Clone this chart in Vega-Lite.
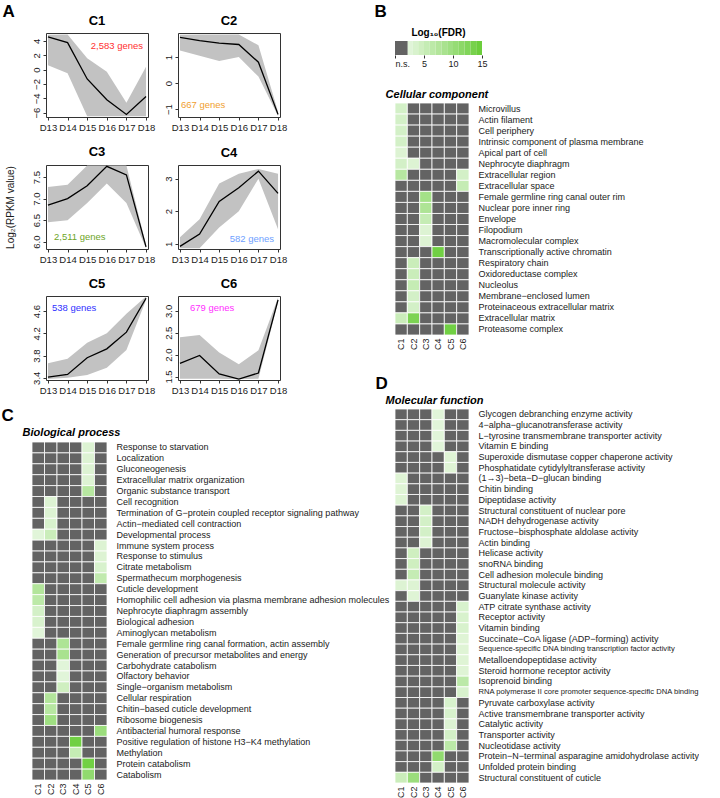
{
"$schema":"https://vega.github.io/schema/vega-lite/v6.json",
"padding":{"left":1,"top":2,"right":0,"bottom":0},
"background":"white",
"config":{
 "font":"Liberation Sans",
 "view":{"stroke":"#333333","strokeWidth":1},
 "axis":{"grid":false,"labelFont":"Liberation Sans","titleFont":"Liberation Sans","labelColor":"#1a1a1a","titleColor":"#1a1a1a","tickColor":"#333333","titleFontWeight":"normal","labelOverlap":false},
 "axisLeft":{"labelAngle":-90,"labelAlign":"center","labelBaseline":"bottom","tickSize":3,"labelPadding":2,"domain":false,"labelFontSize":9.5,"titleFontSize":10,"titlePadding":16,"labelOverlap":false},
 "axisRight":{"domain":false,"ticks":false,"labelFontSize":9,"labelPadding":9,"labelLimit":400},
 "title":{"font":"Liberation Sans","color":"#000000"}
},
"datasets":{
"a":[
{"k":"C1","d":"D13","m":4.56,"lo":0.6,"hi":4.85},
{"k":"C1","d":"D14","m":3.76,"lo":-0.5,"hi":4.9},
{"k":"C1","d":"D15","m":-1.3,"lo":-6.5,"hi":1.6},
{"k":"C1","d":"D16","m":-4.2,"lo":-6.5,"hi":-0.3},
{"k":"C1","d":"D17","m":-6.25,"lo":-6.5,"hi":-4.6},
{"k":"C1","d":"D18","m":-3.75,"lo":-6.5,"hi":0.4},
{"k":"C2","d":"D13","m":1.75,"lo":1.25,"hi":1.85},
{"k":"C2","d":"D14","m":1.63,"lo":1.05,"hi":1.86},
{"k":"C2","d":"D15","m":1.53,"lo":0.85,"hi":1.86},
{"k":"C2","d":"D16","m":1.48,"lo":1.0,"hi":1.86},
{"k":"C2","d":"D17","m":0.8,"lo":0.25,"hi":1.45},
{"k":"C2","d":"D18","m":-1.2,"lo":-1.26,"hi":-1.1},
{"k":"C3","d":"D13","m":6.85,"lo":6.45,"hi":7.27},
{"k":"C3","d":"D14","m":7.0,"lo":6.5,"hi":7.32},
{"k":"C3","d":"D15","m":7.3,"lo":6.9,"hi":7.77},
{"k":"C3","d":"D16","m":7.75,"lo":7.35,"hi":7.77},
{"k":"C3","d":"D17","m":7.55,"lo":6.9,"hi":7.77},
{"k":"C3","d":"D18","m":5.88,"lo":5.85,"hi":5.92},
{"k":"C4","d":"D13","m":0.92,"lo":0.86,"hi":1.2},
{"k":"C4","d":"D14","m":1.3,"lo":0.86,"hi":1.75},
{"k":"C4","d":"D15","m":2.3,"lo":1.5,"hi":2.85},
{"k":"C4","d":"D16","m":2.72,"lo":2.0,"hi":3.15},
{"k":"C4","d":"D17","m":3.23,"lo":3.0,"hi":3.3},
{"k":"C4","d":"D18","m":2.55,"lo":1.45,"hi":3.15},
{"k":"C5","d":"D13","m":3.41,"lo":3.38,"hi":3.66},
{"k":"C5","d":"D14","m":3.46,"lo":3.4,"hi":3.74},
{"k":"C5","d":"D15","m":3.76,"lo":3.45,"hi":4.03},
{"k":"C5","d":"D16","m":3.92,"lo":3.58,"hi":4.2},
{"k":"C5","d":"D17","m":4.22,"lo":3.9,"hi":4.55},
{"k":"C5","d":"D18","m":4.83,"lo":4.8,"hi":4.86},
{"k":"C6","d":"D13","m":1.8,"lo":1.45,"hi":2.4},
{"k":"C6","d":"D14","m":1.98,"lo":1.45,"hi":2.45},
{"k":"C6","d":"D15","m":1.56,"lo":1.45,"hi":2.05},
{"k":"C6","d":"D16","m":1.44,"lo":1.44,"hi":1.78},
{"k":"C6","d":"D17","m":1.58,"lo":1.45,"hi":2.1},
{"k":"C6","d":"D18","m":3.25,"lo":3.2,"hi":3.3}
],
"leg":[
{"a":0,"b":2.2,"v":0},
{"a":2.2,"b":3,"v":2.6},
{"a":3,"b":4,"v":3.5},
{"a":4,"b":5,"v":4.5},
{"a":5,"b":6,"v":5.5},
{"a":6,"b":7,"v":6.5},
{"a":7,"b":8,"v":7.5},
{"a":8,"b":9,"v":8.5},
{"a":9,"b":10,"v":9.5},
{"a":10,"b":11,"v":10.5},
{"a":11,"b":12,"v":11.5},
{"a":12,"b":13,"v":12.5},
{"a":13,"b":14,"v":13.5},
{"a":14,"b":15,"v":14.5}
],
"cc":[
{"t":"Microvillus","c":"C1","v":4},{"t":"Microvillus","c":"C2","v":0},{"t":"Microvillus","c":"C3","v":0},{"t":"Microvillus","c":"C4","v":0},{"t":"Microvillus","c":"C5","v":0},{"t":"Microvillus","c":"C6","v":0},
{"t":"Actin filament","c":"C1","v":4},{"t":"Actin filament","c":"C2","v":0},{"t":"Actin filament","c":"C3","v":0},{"t":"Actin filament","c":"C4","v":0},{"t":"Actin filament","c":"C5","v":0},{"t":"Actin filament","c":"C6","v":0},
{"t":"Cell periphery","c":"C1","v":4},{"t":"Cell periphery","c":"C2","v":0},{"t":"Cell periphery","c":"C3","v":0},{"t":"Cell periphery","c":"C4","v":0},{"t":"Cell periphery","c":"C5","v":0},{"t":"Cell periphery","c":"C6","v":0},
{"t":"Intrinsic component of plasma membrane","c":"C1","v":4},{"t":"Intrinsic component of plasma membrane","c":"C2","v":0},{"t":"Intrinsic component of plasma membrane","c":"C3","v":0},{"t":"Intrinsic component of plasma membrane","c":"C4","v":0},{"t":"Intrinsic component of plasma membrane","c":"C5","v":0},{"t":"Intrinsic component of plasma membrane","c":"C6","v":0},
{"t":"Apical part of cell","c":"C1","v":3},{"t":"Apical part of cell","c":"C2","v":0},{"t":"Apical part of cell","c":"C3","v":0},{"t":"Apical part of cell","c":"C4","v":0},{"t":"Apical part of cell","c":"C5","v":0},{"t":"Apical part of cell","c":"C6","v":0},
{"t":"Nephrocyte diaphragm","c":"C1","v":4},{"t":"Nephrocyte diaphragm","c":"C2","v":3},{"t":"Nephrocyte diaphragm","c":"C3","v":0},{"t":"Nephrocyte diaphragm","c":"C4","v":0},{"t":"Nephrocyte diaphragm","c":"C5","v":0},{"t":"Nephrocyte diaphragm","c":"C6","v":0},
{"t":"Extracellular region","c":"C1","v":7},{"t":"Extracellular region","c":"C2","v":0},{"t":"Extracellular region","c":"C3","v":0},{"t":"Extracellular region","c":"C4","v":0},{"t":"Extracellular region","c":"C5","v":0},{"t":"Extracellular region","c":"C6","v":4},
{"t":"Extracellular space","c":"C1","v":0},{"t":"Extracellular space","c":"C2","v":0},{"t":"Extracellular space","c":"C3","v":0},{"t":"Extracellular space","c":"C4","v":0},{"t":"Extracellular space","c":"C5","v":0},{"t":"Extracellular space","c":"C6","v":5.5},
{"t":"Female germline ring canal outer rim","c":"C1","v":0},{"t":"Female germline ring canal outer rim","c":"C2","v":0},{"t":"Female germline ring canal outer rim","c":"C3","v":9},{"t":"Female germline ring canal outer rim","c":"C4","v":0},{"t":"Female germline ring canal outer rim","c":"C5","v":0},{"t":"Female germline ring canal outer rim","c":"C6","v":0},
{"t":"Nuclear pore inner ring","c":"C1","v":0},{"t":"Nuclear pore inner ring","c":"C2","v":0},{"t":"Nuclear pore inner ring","c":"C3","v":8},{"t":"Nuclear pore inner ring","c":"C4","v":0},{"t":"Nuclear pore inner ring","c":"C5","v":0},{"t":"Nuclear pore inner ring","c":"C6","v":0},
{"t":"Envelope","c":"C1","v":0},{"t":"Envelope","c":"C2","v":0},{"t":"Envelope","c":"C3","v":5.5},{"t":"Envelope","c":"C4","v":0},{"t":"Envelope","c":"C5","v":0},{"t":"Envelope","c":"C6","v":0},
{"t":"Filopodium","c":"C1","v":0},{"t":"Filopodium","c":"C2","v":0},{"t":"Filopodium","c":"C3","v":3},{"t":"Filopodium","c":"C4","v":0},{"t":"Filopodium","c":"C5","v":0},{"t":"Filopodium","c":"C6","v":0},
{"t":"Macromolecular complex","c":"C1","v":0},{"t":"Macromolecular complex","c":"C2","v":0},{"t":"Macromolecular complex","c":"C3","v":3},{"t":"Macromolecular complex","c":"C4","v":0},{"t":"Macromolecular complex","c":"C5","v":0},{"t":"Macromolecular complex","c":"C6","v":0},
{"t":"Transcriptionally active chromatin","c":"C1","v":0},{"t":"Transcriptionally active chromatin","c":"C2","v":0},{"t":"Transcriptionally active chromatin","c":"C3","v":0},{"t":"Transcriptionally active chromatin","c":"C4","v":14},{"t":"Transcriptionally active chromatin","c":"C5","v":0},{"t":"Transcriptionally active chromatin","c":"C6","v":0},
{"t":"Respiratory chain","c":"C1","v":0},{"t":"Respiratory chain","c":"C2","v":5},{"t":"Respiratory chain","c":"C3","v":0},{"t":"Respiratory chain","c":"C4","v":0},{"t":"Respiratory chain","c":"C5","v":0},{"t":"Respiratory chain","c":"C6","v":0},
{"t":"Oxidoreductase complex","c":"C1","v":0},{"t":"Oxidoreductase complex","c":"C2","v":5},{"t":"Oxidoreductase complex","c":"C3","v":0},{"t":"Oxidoreductase complex","c":"C4","v":0},{"t":"Oxidoreductase complex","c":"C5","v":0},{"t":"Oxidoreductase complex","c":"C6","v":0},
{"t":"Nucleolus","c":"C1","v":0},{"t":"Nucleolus","c":"C2","v":5.5},{"t":"Nucleolus","c":"C3","v":0},{"t":"Nucleolus","c":"C4","v":0},{"t":"Nucleolus","c":"C5","v":0},{"t":"Nucleolus","c":"C6","v":0},
{"t":"Membrane−enclosed lumen","c":"C1","v":0},{"t":"Membrane−enclosed lumen","c":"C2","v":4},{"t":"Membrane−enclosed lumen","c":"C3","v":0},{"t":"Membrane−enclosed lumen","c":"C4","v":0},{"t":"Membrane−enclosed lumen","c":"C5","v":0},{"t":"Membrane−enclosed lumen","c":"C6","v":0},
{"t":"Proteinaceous extracellular matrix","c":"C1","v":0},{"t":"Proteinaceous extracellular matrix","c":"C2","v":4},{"t":"Proteinaceous extracellular matrix","c":"C3","v":0},{"t":"Proteinaceous extracellular matrix","c":"C4","v":0},{"t":"Proteinaceous extracellular matrix","c":"C5","v":0},{"t":"Proteinaceous extracellular matrix","c":"C6","v":0},
{"t":"Extracellular matrix","c":"C1","v":5},{"t":"Extracellular matrix","c":"C2","v":13},{"t":"Extracellular matrix","c":"C3","v":0},{"t":"Extracellular matrix","c":"C4","v":0},{"t":"Extracellular matrix","c":"C5","v":0},{"t":"Extracellular matrix","c":"C6","v":0},
{"t":"Proteasome complex","c":"C1","v":0},{"t":"Proteasome complex","c":"C2","v":0},{"t":"Proteasome complex","c":"C3","v":0},{"t":"Proteasome complex","c":"C4","v":0},{"t":"Proteasome complex","c":"C5","v":14},{"t":"Proteasome complex","c":"C6","v":0}
],
"bp":[
{"t":"Response to starvation","c":"C1","v":0},{"t":"Response to starvation","c":"C2","v":0},{"t":"Response to starvation","c":"C3","v":0},{"t":"Response to starvation","c":"C4","v":0},{"t":"Response to starvation","c":"C5","v":3},{"t":"Response to starvation","c":"C6","v":0},
{"t":"Localization","c":"C1","v":0},{"t":"Localization","c":"C2","v":0},{"t":"Localization","c":"C3","v":0},{"t":"Localization","c":"C4","v":0},{"t":"Localization","c":"C5","v":3},{"t":"Localization","c":"C6","v":0},
{"t":"Gluconeogenesis","c":"C1","v":0},{"t":"Gluconeogenesis","c":"C2","v":0},{"t":"Gluconeogenesis","c":"C3","v":0},{"t":"Gluconeogenesis","c":"C4","v":0},{"t":"Gluconeogenesis","c":"C5","v":3},{"t":"Gluconeogenesis","c":"C6","v":0},
{"t":"Extracellular matrix organization","c":"C1","v":0},{"t":"Extracellular matrix organization","c":"C2","v":0},{"t":"Extracellular matrix organization","c":"C3","v":0},{"t":"Extracellular matrix organization","c":"C4","v":0},{"t":"Extracellular matrix organization","c":"C5","v":3},{"t":"Extracellular matrix organization","c":"C6","v":0},
{"t":"Organic substance transport","c":"C1","v":0},{"t":"Organic substance transport","c":"C2","v":0},{"t":"Organic substance transport","c":"C3","v":0},{"t":"Organic substance transport","c":"C4","v":0},{"t":"Organic substance transport","c":"C5","v":7},{"t":"Organic substance transport","c":"C6","v":0},
{"t":"Cell recognition","c":"C1","v":0},{"t":"Cell recognition","c":"C2","v":3},{"t":"Cell recognition","c":"C3","v":0},{"t":"Cell recognition","c":"C4","v":0},{"t":"Cell recognition","c":"C5","v":0},{"t":"Cell recognition","c":"C6","v":0},
{"t":"Termination of G−protein coupled receptor signaling pathway","c":"C1","v":0},{"t":"Termination of G−protein coupled receptor signaling pathway","c":"C2","v":3},{"t":"Termination of G−protein coupled receptor signaling pathway","c":"C3","v":0},{"t":"Termination of G−protein coupled receptor signaling pathway","c":"C4","v":0},{"t":"Termination of G−protein coupled receptor signaling pathway","c":"C5","v":0},{"t":"Termination of G−protein coupled receptor signaling pathway","c":"C6","v":0},
{"t":"Actin−mediated cell contraction","c":"C1","v":0},{"t":"Actin−mediated cell contraction","c":"C2","v":3.5},{"t":"Actin−mediated cell contraction","c":"C3","v":0},{"t":"Actin−mediated cell contraction","c":"C4","v":0},{"t":"Actin−mediated cell contraction","c":"C5","v":0},{"t":"Actin−mediated cell contraction","c":"C6","v":0},
{"t":"Developmental process","c":"C1","v":2.5},{"t":"Developmental process","c":"C2","v":5},{"t":"Developmental process","c":"C3","v":0},{"t":"Developmental process","c":"C4","v":0},{"t":"Developmental process","c":"C5","v":0},{"t":"Developmental process","c":"C6","v":0},
{"t":"Immune system process","c":"C1","v":0},{"t":"Immune system process","c":"C2","v":0},{"t":"Immune system process","c":"C3","v":0},{"t":"Immune system process","c":"C4","v":0},{"t":"Immune system process","c":"C5","v":0},{"t":"Immune system process","c":"C6","v":3},
{"t":"Response to stimulus","c":"C1","v":0},{"t":"Response to stimulus","c":"C2","v":0},{"t":"Response to stimulus","c":"C3","v":0},{"t":"Response to stimulus","c":"C4","v":0},{"t":"Response to stimulus","c":"C5","v":0},{"t":"Response to stimulus","c":"C6","v":3},
{"t":"Citrate metabolism","c":"C1","v":0},{"t":"Citrate metabolism","c":"C2","v":0},{"t":"Citrate metabolism","c":"C3","v":0},{"t":"Citrate metabolism","c":"C4","v":0},{"t":"Citrate metabolism","c":"C5","v":0},{"t":"Citrate metabolism","c":"C6","v":3.5},
{"t":"Spermathecum morphogenesis","c":"C1","v":0},{"t":"Spermathecum morphogenesis","c":"C2","v":0},{"t":"Spermathecum morphogenesis","c":"C3","v":0},{"t":"Spermathecum morphogenesis","c":"C4","v":0},{"t":"Spermathecum morphogenesis","c":"C5","v":0},{"t":"Spermathecum morphogenesis","c":"C6","v":6},
{"t":"Cuticle development","c":"C1","v":7.5},{"t":"Cuticle development","c":"C2","v":0},{"t":"Cuticle development","c":"C3","v":0},{"t":"Cuticle development","c":"C4","v":0},{"t":"Cuticle development","c":"C5","v":0},{"t":"Cuticle development","c":"C6","v":0},
{"t":"Homophilic cell adhesion via plasma membrane adhesion molecules","c":"C1","v":6.5},{"t":"Homophilic cell adhesion via plasma membrane adhesion molecules","c":"C2","v":0},{"t":"Homophilic cell adhesion via plasma membrane adhesion molecules","c":"C3","v":0},{"t":"Homophilic cell adhesion via plasma membrane adhesion molecules","c":"C4","v":0},{"t":"Homophilic cell adhesion via plasma membrane adhesion molecules","c":"C5","v":0},{"t":"Homophilic cell adhesion via plasma membrane adhesion molecules","c":"C6","v":0},
{"t":"Nephrocyte diaphragm assembly","c":"C1","v":4},{"t":"Nephrocyte diaphragm assembly","c":"C2","v":0},{"t":"Nephrocyte diaphragm assembly","c":"C3","v":0},{"t":"Nephrocyte diaphragm assembly","c":"C4","v":0},{"t":"Nephrocyte diaphragm assembly","c":"C5","v":0},{"t":"Nephrocyte diaphragm assembly","c":"C6","v":0},
{"t":"Biological adhesion","c":"C1","v":3.5},{"t":"Biological adhesion","c":"C2","v":0},{"t":"Biological adhesion","c":"C3","v":0},{"t":"Biological adhesion","c":"C4","v":0},{"t":"Biological adhesion","c":"C5","v":0},{"t":"Biological adhesion","c":"C6","v":0},
{"t":"Aminoglycan metabolism","c":"C1","v":2.5},{"t":"Aminoglycan metabolism","c":"C2","v":0},{"t":"Aminoglycan metabolism","c":"C3","v":0},{"t":"Aminoglycan metabolism","c":"C4","v":0},{"t":"Aminoglycan metabolism","c":"C5","v":0},{"t":"Aminoglycan metabolism","c":"C6","v":0},
{"t":"Female germline ring canal formation, actin assembly","c":"C1","v":0},{"t":"Female germline ring canal formation, actin assembly","c":"C2","v":0},{"t":"Female germline ring canal formation, actin assembly","c":"C3","v":8},{"t":"Female germline ring canal formation, actin assembly","c":"C4","v":0},{"t":"Female germline ring canal formation, actin assembly","c":"C5","v":0},{"t":"Female germline ring canal formation, actin assembly","c":"C6","v":0},
{"t":"Generation of precursor metabolites and energy","c":"C1","v":0},{"t":"Generation of precursor metabolites and energy","c":"C2","v":0},{"t":"Generation of precursor metabolites and energy","c":"C3","v":8.5},{"t":"Generation of precursor metabolites and energy","c":"C4","v":0},{"t":"Generation of precursor metabolites and energy","c":"C5","v":0},{"t":"Generation of precursor metabolites and energy","c":"C6","v":0},
{"t":"Carbohydrate catabolism","c":"C1","v":0},{"t":"Carbohydrate catabolism","c":"C2","v":0},{"t":"Carbohydrate catabolism","c":"C3","v":2.5},{"t":"Carbohydrate catabolism","c":"C4","v":0},{"t":"Carbohydrate catabolism","c":"C5","v":0},{"t":"Carbohydrate catabolism","c":"C6","v":0},
{"t":"Olfactory behavior","c":"C1","v":0},{"t":"Olfactory behavior","c":"C2","v":0},{"t":"Olfactory behavior","c":"C3","v":2.5},{"t":"Olfactory behavior","c":"C4","v":0},{"t":"Olfactory behavior","c":"C5","v":0},{"t":"Olfactory behavior","c":"C6","v":0},
{"t":"Single−organism metabolism","c":"C1","v":0},{"t":"Single−organism metabolism","c":"C2","v":0},{"t":"Single−organism metabolism","c":"C3","v":4.5},{"t":"Single−organism metabolism","c":"C4","v":0},{"t":"Single−organism metabolism","c":"C5","v":0},{"t":"Single−organism metabolism","c":"C6","v":0},
{"t":"Cellular respiration","c":"C1","v":0},{"t":"Cellular respiration","c":"C2","v":7.5},{"t":"Cellular respiration","c":"C3","v":0},{"t":"Cellular respiration","c":"C4","v":0},{"t":"Cellular respiration","c":"C5","v":0},{"t":"Cellular respiration","c":"C6","v":0},
{"t":"Chitin−based cuticle development","c":"C1","v":0},{"t":"Chitin−based cuticle development","c":"C2","v":7},{"t":"Chitin−based cuticle development","c":"C3","v":0},{"t":"Chitin−based cuticle development","c":"C4","v":0},{"t":"Chitin−based cuticle development","c":"C5","v":0},{"t":"Chitin−based cuticle development","c":"C6","v":0},
{"t":"Ribosome biogenesis","c":"C1","v":0},{"t":"Ribosome biogenesis","c":"C2","v":9.5},{"t":"Ribosome biogenesis","c":"C3","v":0},{"t":"Ribosome biogenesis","c":"C4","v":0},{"t":"Ribosome biogenesis","c":"C5","v":0},{"t":"Ribosome biogenesis","c":"C6","v":0},
{"t":"Antibacterial humoral response","c":"C1","v":0},{"t":"Antibacterial humoral response","c":"C2","v":0},{"t":"Antibacterial humoral response","c":"C3","v":0},{"t":"Antibacterial humoral response","c":"C4","v":0},{"t":"Antibacterial humoral response","c":"C5","v":0},{"t":"Antibacterial humoral response","c":"C6","v":10},
{"t":"Positive regulation of histone H3−K4 methylation","c":"C1","v":0},{"t":"Positive regulation of histone H3−K4 methylation","c":"C2","v":0},{"t":"Positive regulation of histone H3−K4 methylation","c":"C3","v":0},{"t":"Positive regulation of histone H3−K4 methylation","c":"C4","v":14},{"t":"Positive regulation of histone H3−K4 methylation","c":"C5","v":0},{"t":"Positive regulation of histone H3−K4 methylation","c":"C6","v":0},
{"t":"Methylation","c":"C1","v":0},{"t":"Methylation","c":"C2","v":0},{"t":"Methylation","c":"C3","v":0},{"t":"Methylation","c":"C4","v":5.5},{"t":"Methylation","c":"C5","v":0},{"t":"Methylation","c":"C6","v":0},
{"t":"Protein catabolism","c":"C1","v":0},{"t":"Protein catabolism","c":"C2","v":0},{"t":"Protein catabolism","c":"C3","v":0},{"t":"Protein catabolism","c":"C4","v":0},{"t":"Protein catabolism","c":"C5","v":14},{"t":"Protein catabolism","c":"C6","v":0},
{"t":"Catabolism","c":"C1","v":0},{"t":"Catabolism","c":"C2","v":0},{"t":"Catabolism","c":"C3","v":0},{"t":"Catabolism","c":"C4","v":0},{"t":"Catabolism","c":"C5","v":11},{"t":"Catabolism","c":"C6","v":0}
],
"mf":[
{"t":"Glycogen debranching enzyme activity","c":"C1","v":0},{"t":"Glycogen debranching enzyme activity","c":"C2","v":0},{"t":"Glycogen debranching enzyme activity","c":"C3","v":0},{"t":"Glycogen debranching enzyme activity","c":"C4","v":2.5},{"t":"Glycogen debranching enzyme activity","c":"C5","v":0},{"t":"Glycogen debranching enzyme activity","c":"C6","v":0},
{"t":"4−alpha−glucanotransferase activity","c":"C1","v":0},{"t":"4−alpha−glucanotransferase activity","c":"C2","v":0},{"t":"4−alpha−glucanotransferase activity","c":"C3","v":0},{"t":"4−alpha−glucanotransferase activity","c":"C4","v":2.5},{"t":"4−alpha−glucanotransferase activity","c":"C5","v":0},{"t":"4−alpha−glucanotransferase activity","c":"C6","v":0},
{"t":"L−tyrosine transmembrane transporter activity","c":"C1","v":0},{"t":"L−tyrosine transmembrane transporter activity","c":"C2","v":0},{"t":"L−tyrosine transmembrane transporter activity","c":"C3","v":0},{"t":"L−tyrosine transmembrane transporter activity","c":"C4","v":2.5},{"t":"L−tyrosine transmembrane transporter activity","c":"C5","v":0},{"t":"L−tyrosine transmembrane transporter activity","c":"C6","v":0},
{"t":"Vitamin E binding","c":"C1","v":0},{"t":"Vitamin E binding","c":"C2","v":0},{"t":"Vitamin E binding","c":"C3","v":0},{"t":"Vitamin E binding","c":"C4","v":2.5},{"t":"Vitamin E binding","c":"C5","v":0},{"t":"Vitamin E binding","c":"C6","v":0},
{"t":"Superoxide dismutase copper chaperone activity","c":"C1","v":0},{"t":"Superoxide dismutase copper chaperone activity","c":"C2","v":0},{"t":"Superoxide dismutase copper chaperone activity","c":"C3","v":0},{"t":"Superoxide dismutase copper chaperone activity","c":"C4","v":0},{"t":"Superoxide dismutase copper chaperone activity","c":"C5","v":2.8},{"t":"Superoxide dismutase copper chaperone activity","c":"C6","v":0},
{"t":"Phosphatidate cytidylyltransferase activity","c":"C1","v":0},{"t":"Phosphatidate cytidylyltransferase activity","c":"C2","v":0},{"t":"Phosphatidate cytidylyltransferase activity","c":"C3","v":0},{"t":"Phosphatidate cytidylyltransferase activity","c":"C4","v":0},{"t":"Phosphatidate cytidylyltransferase activity","c":"C5","v":2.8},{"t":"Phosphatidate cytidylyltransferase activity","c":"C6","v":0},
{"t":"(1→3)−beta−D−glucan binding","c":"C1","v":2.8},{"t":"(1→3)−beta−D−glucan binding","c":"C2","v":0},{"t":"(1→3)−beta−D−glucan binding","c":"C3","v":0},{"t":"(1→3)−beta−D−glucan binding","c":"C4","v":0},{"t":"(1→3)−beta−D−glucan binding","c":"C5","v":0},{"t":"(1→3)−beta−D−glucan binding","c":"C6","v":0},
{"t":"Chitin binding","c":"C1","v":2.8},{"t":"Chitin binding","c":"C2","v":0},{"t":"Chitin binding","c":"C3","v":0},{"t":"Chitin binding","c":"C4","v":0},{"t":"Chitin binding","c":"C5","v":0},{"t":"Chitin binding","c":"C6","v":0},
{"t":"Dipeptidase activity","c":"C1","v":3},{"t":"Dipeptidase activity","c":"C2","v":0},{"t":"Dipeptidase activity","c":"C3","v":0},{"t":"Dipeptidase activity","c":"C4","v":0},{"t":"Dipeptidase activity","c":"C5","v":0},{"t":"Dipeptidase activity","c":"C6","v":0},
{"t":"Structural constituent of nuclear pore","c":"C1","v":0},{"t":"Structural constituent of nuclear pore","c":"C2","v":0},{"t":"Structural constituent of nuclear pore","c":"C3","v":4},{"t":"Structural constituent of nuclear pore","c":"C4","v":0},{"t":"Structural constituent of nuclear pore","c":"C5","v":0},{"t":"Structural constituent of nuclear pore","c":"C6","v":0},
{"t":"NADH dehydrogenase activity","c":"C1","v":0},{"t":"NADH dehydrogenase activity","c":"C2","v":0},{"t":"NADH dehydrogenase activity","c":"C3","v":4},{"t":"NADH dehydrogenase activity","c":"C4","v":0},{"t":"NADH dehydrogenase activity","c":"C5","v":0},{"t":"NADH dehydrogenase activity","c":"C6","v":0},
{"t":"Fructose−bisphosphate aldolase activity","c":"C1","v":0},{"t":"Fructose−bisphosphate aldolase activity","c":"C2","v":0},{"t":"Fructose−bisphosphate aldolase activity","c":"C3","v":4},{"t":"Fructose−bisphosphate aldolase activity","c":"C4","v":0},{"t":"Fructose−bisphosphate aldolase activity","c":"C5","v":0},{"t":"Fructose−bisphosphate aldolase activity","c":"C6","v":0},
{"t":"Actin binding","c":"C1","v":0},{"t":"Actin binding","c":"C2","v":0},{"t":"Actin binding","c":"C3","v":3},{"t":"Actin binding","c":"C4","v":0},{"t":"Actin binding","c":"C5","v":0},{"t":"Actin binding","c":"C6","v":0},
{"t":"Helicase activity","c":"C1","v":0},{"t":"Helicase activity","c":"C2","v":4.5},{"t":"Helicase activity","c":"C3","v":0},{"t":"Helicase activity","c":"C4","v":0},{"t":"Helicase activity","c":"C5","v":0},{"t":"Helicase activity","c":"C6","v":0},
{"t":"snoRNA binding","c":"C1","v":0},{"t":"snoRNA binding","c":"C2","v":4.5},{"t":"snoRNA binding","c":"C3","v":0},{"t":"snoRNA binding","c":"C4","v":0},{"t":"snoRNA binding","c":"C5","v":0},{"t":"snoRNA binding","c":"C6","v":0},
{"t":"Cell adhesion molecule binding","c":"C1","v":0},{"t":"Cell adhesion molecule binding","c":"C2","v":5.5},{"t":"Cell adhesion molecule binding","c":"C3","v":0},{"t":"Cell adhesion molecule binding","c":"C4","v":0},{"t":"Cell adhesion molecule binding","c":"C5","v":0},{"t":"Cell adhesion molecule binding","c":"C6","v":0},
{"t":"Structural molecule activity","c":"C1","v":3},{"t":"Structural molecule activity","c":"C2","v":3},{"t":"Structural molecule activity","c":"C3","v":0},{"t":"Structural molecule activity","c":"C4","v":0},{"t":"Structural molecule activity","c":"C5","v":0},{"t":"Structural molecule activity","c":"C6","v":0},
{"t":"Guanylate kinase activity","c":"C1","v":0},{"t":"Guanylate kinase activity","c":"C2","v":2.8},{"t":"Guanylate kinase activity","c":"C3","v":0},{"t":"Guanylate kinase activity","c":"C4","v":0},{"t":"Guanylate kinase activity","c":"C5","v":0},{"t":"Guanylate kinase activity","c":"C6","v":0},
{"t":"ATP citrate synthase activity","c":"C1","v":0},{"t":"ATP citrate synthase activity","c":"C2","v":0},{"t":"ATP citrate synthase activity","c":"C3","v":0},{"t":"ATP citrate synthase activity","c":"C4","v":0},{"t":"ATP citrate synthase activity","c":"C5","v":0},{"t":"ATP citrate synthase activity","c":"C6","v":3.5},
{"t":"Receptor activity","c":"C1","v":0},{"t":"Receptor activity","c":"C2","v":0},{"t":"Receptor activity","c":"C3","v":0},{"t":"Receptor activity","c":"C4","v":0},{"t":"Receptor activity","c":"C5","v":0},{"t":"Receptor activity","c":"C6","v":3.5},
{"t":"Vitamin binding","c":"C1","v":0},{"t":"Vitamin binding","c":"C2","v":0},{"t":"Vitamin binding","c":"C3","v":0},{"t":"Vitamin binding","c":"C4","v":0},{"t":"Vitamin binding","c":"C5","v":0},{"t":"Vitamin binding","c":"C6","v":3.5},
{"t":"Succinate−CoA ligase (ADP−forming) activity","c":"C1","v":0},{"t":"Succinate−CoA ligase (ADP−forming) activity","c":"C2","v":0},{"t":"Succinate−CoA ligase (ADP−forming) activity","c":"C3","v":0},{"t":"Succinate−CoA ligase (ADP−forming) activity","c":"C4","v":0},{"t":"Succinate−CoA ligase (ADP−forming) activity","c":"C5","v":0},{"t":"Succinate−CoA ligase (ADP−forming) activity","c":"C6","v":2.8},
{"t":"Sequence-specific DNA binding transcription factor activity","c":"C1","v":0},{"t":"Sequence-specific DNA binding transcription factor activity","c":"C2","v":0},{"t":"Sequence-specific DNA binding transcription factor activity","c":"C3","v":0},{"t":"Sequence-specific DNA binding transcription factor activity","c":"C4","v":0},{"t":"Sequence-specific DNA binding transcription factor activity","c":"C5","v":0},{"t":"Sequence-specific DNA binding transcription factor activity","c":"C6","v":2.8},
{"t":"Metalloendopeptidase activity","c":"C1","v":0},{"t":"Metalloendopeptidase activity","c":"C2","v":0},{"t":"Metalloendopeptidase activity","c":"C3","v":0},{"t":"Metalloendopeptidase activity","c":"C4","v":0},{"t":"Metalloendopeptidase activity","c":"C5","v":0},{"t":"Metalloendopeptidase activity","c":"C6","v":2.8},
{"t":"Steroid hormone receptor activity","c":"C1","v":0},{"t":"Steroid hormone receptor activity","c":"C2","v":0},{"t":"Steroid hormone receptor activity","c":"C3","v":0},{"t":"Steroid hormone receptor activity","c":"C4","v":0},{"t":"Steroid hormone receptor activity","c":"C5","v":0},{"t":"Steroid hormone receptor activity","c":"C6","v":2.8},
{"t":"Isoprenoid binding","c":"C1","v":0},{"t":"Isoprenoid binding","c":"C2","v":0},{"t":"Isoprenoid binding","c":"C3","v":0},{"t":"Isoprenoid binding","c":"C4","v":0},{"t":"Isoprenoid binding","c":"C5","v":0},{"t":"Isoprenoid binding","c":"C6","v":6.5},
{"t":"RNA polymerase II core promoter sequence-specific DNA binding","c":"C1","v":0},{"t":"RNA polymerase II core promoter sequence-specific DNA binding","c":"C2","v":0},{"t":"RNA polymerase II core promoter sequence-specific DNA binding","c":"C3","v":0},{"t":"RNA polymerase II core promoter sequence-specific DNA binding","c":"C4","v":0},{"t":"RNA polymerase II core promoter sequence-specific DNA binding","c":"C5","v":0},{"t":"RNA polymerase II core promoter sequence-specific DNA binding","c":"C6","v":3.5},
{"t":"Pyruvate carboxylase activity","c":"C1","v":0},{"t":"Pyruvate carboxylase activity","c":"C2","v":0},{"t":"Pyruvate carboxylase activity","c":"C3","v":0},{"t":"Pyruvate carboxylase activity","c":"C4","v":0},{"t":"Pyruvate carboxylase activity","c":"C5","v":3.5},{"t":"Pyruvate carboxylase activity","c":"C6","v":0},
{"t":"Active transmembrane transporter activity","c":"C1","v":0},{"t":"Active transmembrane transporter activity","c":"C2","v":0},{"t":"Active transmembrane transporter activity","c":"C3","v":0},{"t":"Active transmembrane transporter activity","c":"C4","v":0},{"t":"Active transmembrane transporter activity","c":"C5","v":3.5},{"t":"Active transmembrane transporter activity","c":"C6","v":0},
{"t":"Catalytic activity","c":"C1","v":0},{"t":"Catalytic activity","c":"C2","v":0},{"t":"Catalytic activity","c":"C3","v":0},{"t":"Catalytic activity","c":"C4","v":0},{"t":"Catalytic activity","c":"C5","v":3},{"t":"Catalytic activity","c":"C6","v":0},
{"t":"Transporter activity","c":"C1","v":0},{"t":"Transporter activity","c":"C2","v":0},{"t":"Transporter activity","c":"C3","v":0},{"t":"Transporter activity","c":"C4","v":0},{"t":"Transporter activity","c":"C5","v":4},{"t":"Transporter activity","c":"C6","v":0},
{"t":"Nucleotidase activity","c":"C1","v":0},{"t":"Nucleotidase activity","c":"C2","v":0},{"t":"Nucleotidase activity","c":"C3","v":0},{"t":"Nucleotidase activity","c":"C4","v":0},{"t":"Nucleotidase activity","c":"C5","v":6.5},{"t":"Nucleotidase activity","c":"C6","v":0},
{"t":"Protein−N−terminal asparagine amidohydrolase activity","c":"C1","v":0},{"t":"Protein−N−terminal asparagine amidohydrolase activity","c":"C2","v":0},{"t":"Protein−N−terminal asparagine amidohydrolase activity","c":"C3","v":0},{"t":"Protein−N−terminal asparagine amidohydrolase activity","c":"C4","v":11},{"t":"Protein−N−terminal asparagine amidohydrolase activity","c":"C5","v":0},{"t":"Protein−N−terminal asparagine amidohydrolase activity","c":"C6","v":0},
{"t":"Unfolded protein binding","c":"C1","v":0},{"t":"Unfolded protein binding","c":"C2","v":0},{"t":"Unfolded protein binding","c":"C3","v":0},{"t":"Unfolded protein binding","c":"C4","v":4},{"t":"Unfolded protein binding","c":"C5","v":0},{"t":"Unfolded protein binding","c":"C6","v":0},
{"t":"Structural constituent of cuticle","c":"C1","v":5},{"t":"Structural constituent of cuticle","c":"C2","v":10},{"t":"Structural constituent of cuticle","c":"C3","v":0},{"t":"Structural constituent of cuticle","c":"C4","v":0},{"t":"Structural constituent of cuticle","c":"C5","v":0},{"t":"Structural constituent of cuticle","c":"C6","v":0}
]
},
"spacing":-15,
"resolve":{"scale":{"x":"independent","y":"independent"}},
"hconcat":[
 {"spacing":11,"resolve":{"scale":{"x":"independent","y":"independent"}},
  "vconcat":[
   {"title":{"text":"A","fontSize":17,"fontWeight":"bold","anchor":"start","offset":-6,"dx":-2},
    "spacing":-29,"resolve":{"scale":{"x":"independent","y":"independent"}},
    "hconcat":[
     {"width":1,"height":1,"view":{"stroke":null},"data":{"values":[]},"mark":{"type":"point","opacity":0},"encoding":{}},
     {"spacing":13,"resolve":{"scale":{"x":"independent","y":"independent"}},
      "vconcat":[
     {"spacing":6,"resolve":{"scale":{"x":"independent","y":"independent"}},"hconcat":[
      {"width":102,"height":84,"title":{"text":"C1","fontSize":13,"fontWeight":"bold","offset":5},
       "data":{"name":"a"},"transform":[{"filter":"datum.k == 'C1'"}],
       "encoding":{"x":{"field":"d","type":"ordinal","scale":{"type":"point","padding":0.1},"axis":{"title":null,"labelAngle":0,"labelFontSize":9.5,"tickSize":3,"domain":false,"labelPadding":2,"labelOverlap":false}}},
       "layer":[
        {"mark":{"type":"area","color":"#c2c2c2"},"encoding":{"y":{"field":"lo","type":"quantitative","scale":{"domain":[-6.6,5.1],"nice":false,"zero":false},"axis":{"title":"Log₂(RPKM value)","titleOpacity":0,"values":[-6,-4,-2,0,2,4],"labelOverlap":false}},"y2":{"field":"hi"}}},
        {"mark":{"type":"line","color":"#000000","strokeWidth":1.3},"encoding":{"y":{"field":"m","type":"quantitative","axis":{"title":"Log₂(RPKM value)","titleOpacity":0,"values":[-6,-4,-2,0,2,4],"labelOverlap":false}}}},
        {"transform":[{"filter":"datum.d == 'D13'"}],"mark":{"type":"text","color":"#ff3030","fontSize":9.5,"align":"right","baseline":"middle","dx":-3},"encoding":{"x":{"datum":"D18","type":"ordinal"},"y":{"datum":3.3,"type":"quantitative","axis":{"title":"Log₂(RPKM value)","titleOpacity":0,"values":[-6,-4,-2,0,2,4],"labelOverlap":false}},"text":{"value":"2,583 genes"}}}
       ]},
      {"width":102,"height":84,"title":{"text":"C2","fontSize":13,"fontWeight":"bold","offset":5},
       "data":{"name":"a"},"transform":[{"filter":"datum.k == 'C2'"}],
       "encoding":{"x":{"field":"d","type":"ordinal","scale":{"type":"point","padding":0.1},"axis":{"title":null,"labelAngle":0,"labelFontSize":9.5,"tickSize":3,"domain":false,"labelPadding":2,"labelOverlap":false}}},
       "layer":[
        {"mark":{"type":"area","color":"#c2c2c2"},"encoding":{"y":{"field":"lo","type":"quantitative","scale":{"domain":[-1.3,1.92],"nice":false,"zero":false},"axis":{"title":null,"values":[-1,0,1],"labelOverlap":false}},"y2":{"field":"hi"}}},
        {"mark":{"type":"line","color":"#000000","strokeWidth":1.3},"encoding":{"y":{"field":"m","type":"quantitative","axis":{"title":null,"values":[-1,0,1],"labelOverlap":false}}}},
        {"transform":[{"filter":"datum.d == 'D13'"}],"mark":{"type":"text","color":"#f0a030","fontSize":9.5,"align":"left","baseline":"middle","dx":1},"encoding":{"x":{"datum":"D13","type":"ordinal"},"y":{"datum":-0.85,"type":"quantitative","axis":{"title":null,"values":[-1,0,1],"labelOverlap":false}},"text":{"value":"667 genes"}}}
       ]}
     ]},
     {"spacing":6,"resolve":{"scale":{"x":"independent","y":"independent"}},"hconcat":[
      {"width":102,"height":84,"title":{"text":"C3","fontSize":13,"fontWeight":"bold","offset":5},
       "data":{"name":"a"},"transform":[{"filter":"datum.k == 'C3'"}],
       "encoding":{"x":{"field":"d","type":"ordinal","scale":{"type":"point","padding":0.1},"axis":{"title":null,"labelAngle":0,"labelFontSize":9.5,"tickSize":3,"domain":false,"labelPadding":2,"labelOverlap":false}}},
       "layer":[
        {"mark":{"type":"area","color":"#c2c2c2"},"encoding":{"y":{"field":"lo","type":"quantitative","scale":{"domain":[5.83,7.78],"nice":false,"zero":false},"axis":{"title":"Log₂(RPKM value)","values":[6,6.5,7,7.5],"format":".1f","labelOverlap":false}},"y2":{"field":"hi"}}},
        {"mark":{"type":"line","color":"#000000","strokeWidth":1.3},"encoding":{"y":{"field":"m","type":"quantitative","axis":{"title":"Log₂(RPKM value)","values":[6,6.5,7,7.5],"format":".1f","labelOverlap":false}}}},
        {"transform":[{"filter":"datum.d == 'D13'"}],"mark":{"type":"text","color":"#6ea51f","fontSize":9.5,"align":"left","baseline":"middle","dx":6},"encoding":{"x":{"datum":"D13","type":"ordinal"},"y":{"datum":6.1,"type":"quantitative","axis":{"title":"Log₂(RPKM value)","values":[6,6.5,7,7.5],"format":".1f","labelOverlap":false}},"text":{"value":"2,511 genes"}}}
       ]},
      {"width":102,"height":84,"title":{"text":"C4","fontSize":13,"fontWeight":"bold","offset":5},
       "data":{"name":"a"},"transform":[{"filter":"datum.k == 'C4'"}],
       "encoding":{"x":{"field":"d","type":"ordinal","scale":{"type":"point","padding":0.1},"axis":{"title":null,"labelAngle":0,"labelFontSize":9.5,"tickSize":3,"domain":false,"labelPadding":2,"labelOverlap":false}}},
       "layer":[
        {"mark":{"type":"area","color":"#c2c2c2"},"encoding":{"y":{"field":"lo","type":"quantitative","scale":{"domain":[0.84,3.42],"nice":false,"zero":false},"axis":{"title":null,"values":[1,2,3],"labelOverlap":false}},"y2":{"field":"hi"}}},
        {"mark":{"type":"line","color":"#000000","strokeWidth":1.3},"encoding":{"y":{"field":"m","type":"quantitative","axis":{"title":null,"values":[1,2,3],"labelOverlap":false}}}},
        {"transform":[{"filter":"datum.d == 'D13'"}],"mark":{"type":"text","color":"#6f9fff","fontSize":9.5,"align":"right","baseline":"middle","dx":-4},"encoding":{"x":{"datum":"D18","type":"ordinal"},"y":{"datum":1.15,"type":"quantitative","axis":{"title":null,"values":[1,2,3],"labelOverlap":false}},"text":{"value":"582 genes"}}}
       ]}
     ]},
     {"spacing":6,"resolve":{"scale":{"x":"independent","y":"independent"}},"hconcat":[
      {"width":102,"height":84,"title":{"text":"C5","fontSize":13,"fontWeight":"bold","offset":5},
       "data":{"name":"a"},"transform":[{"filter":"datum.k == 'C5'"}],
       "encoding":{"x":{"field":"d","type":"ordinal","scale":{"type":"point","padding":0.1},"axis":{"title":null,"labelAngle":0,"labelFontSize":9.5,"tickSize":3,"domain":false,"labelPadding":2,"labelOverlap":false}}},
       "layer":[
        {"mark":{"type":"area","color":"#c2c2c2"},"encoding":{"y":{"field":"lo","type":"quantitative","scale":{"domain":[3.36,4.87],"nice":false,"zero":false},"axis":{"title":"Log₂(RPKM value)","titleOpacity":0,"values":[3.4,3.8,4.2,4.6],"format":".1f","labelOverlap":false}},"y2":{"field":"hi"}}},
        {"mark":{"type":"line","color":"#000000","strokeWidth":1.3},"encoding":{"y":{"field":"m","type":"quantitative","axis":{"title":"Log₂(RPKM value)","titleOpacity":0,"values":[3.4,3.8,4.2,4.6],"format":".1f","labelOverlap":false}}}},
        {"transform":[{"filter":"datum.d == 'D13'"}],"mark":{"type":"text","color":"#3030ff","fontSize":9.5,"align":"left","baseline":"middle","dx":4},"encoding":{"x":{"datum":"D13","type":"ordinal"},"y":{"datum":4.65,"type":"quantitative","axis":{"title":"Log₂(RPKM value)","titleOpacity":0,"values":[3.4,3.8,4.2,4.6],"format":".1f","labelOverlap":false}},"text":{"value":"538 genes"}}}
       ]},
      {"width":102,"height":84,"title":{"text":"C6","fontSize":13,"fontWeight":"bold","offset":5},
       "data":{"name":"a"},"transform":[{"filter":"datum.k == 'C6'"}],
       "encoding":{"x":{"field":"d","type":"ordinal","scale":{"type":"point","padding":0.1},"axis":{"title":null,"labelAngle":0,"labelFontSize":9.5,"tickSize":3,"domain":false,"labelPadding":2,"labelOverlap":false}}},
       "layer":[
        {"mark":{"type":"area","color":"#c2c2c2"},"encoding":{"y":{"field":"lo","type":"quantitative","scale":{"domain":[1.42,3.34],"nice":false,"zero":false},"axis":{"title":null,"values":[1.5,2,2.5,3],"format":".1f","labelOverlap":false}},"y2":{"field":"hi"}}},
        {"mark":{"type":"line","color":"#000000","strokeWidth":1.3},"encoding":{"y":{"field":"m","type":"quantitative","axis":{"title":null,"values":[1.5,2,2.5,3],"format":".1f","labelOverlap":false}}}},
        {"transform":[{"filter":"datum.d == 'D13'"}],"mark":{"type":"text","color":"#ff30ff","fontSize":9.5,"align":"left","baseline":"middle","dx":10},"encoding":{"x":{"datum":"D13","type":"ordinal"},"y":{"datum":3.06,"type":"quantitative","axis":{"title":null,"values":[1.5,2,2.5,3],"format":".1f","labelOverlap":false}},"text":{"value":"679 genes"}}}
       ]}
     ]}
      ]}
    ]},
   {"title":{"text":"C","fontSize":17,"fontWeight":"bold","anchor":"start","offset":2,"dx":-21},
    "vconcat":[
     {"data":{"name":"bp"},"width":75,"height":338,"view":{"stroke":null},
      "title":{"text":"Biological process","fontSize":11,"fontWeight":"bold","fontStyle":"italic","anchor":"start","dx":-9,"offset":4},
      "mark":{"type":"rect","stroke":"#ffffff","strokeWidth":0.8},
      "encoding":{
       "x":{"field":"c","type":"nominal","sort":null,"scale":{"paddingInner":0,"paddingOuter":0},"axis":{"title":null,"orient":"bottom","labelAngle":-90,"domain":false,"ticks":false,"labelFontSize":9,"labelPadding":3}},
       "y":{"field":"t","type":"nominal","sort":null,"scale":{"paddingInner":0,"paddingOuter":0},"axis":{"title":null,"orient":"right"}},
       "color":{"field":"v","type":"quantitative","scale":{"type":"linear","domain":[0,1.9,2,15],"range":["#636363","#636363","#e6f6df","#66cc33"],"clamp":true,"nice":false,"zero":false},"legend":null}
      }}
    ]}
  ]},
 {"spacing":24,"resolve":{"scale":{"x":"independent","y":"independent"}},
  "vconcat":[
   {"title":{"text":"B","fontSize":17,"fontWeight":"bold","anchor":"start","offset":7,"dx":-11},
    "spacing":20,"resolve":{"scale":{"x":"independent","y":"independent"}},
    "vconcat":[
     {"spacing":-6,"resolve":{"scale":{"x":"independent","y":"independent"}},
      "vconcat":[
       {"width":1,"height":1,"view":{"stroke":null},"data":{"values":[]},"mark":{"type":"point","opacity":0},"encoding":{}},
       {"data":{"name":"leg"},"width":87,"height":14,"view":{"stroke":null},
        "title":{"text":"Log₁₀(FDR)","fontSize":10,"fontWeight":"bold","anchor":"middle","offset":3},
        "mark":{"type":"rect"},
        "encoding":{
         "x":{"field":"a","type":"quantitative","scale":{"domain":[0,15],"nice":false,"zero":false},"axis":{"title":null,"values":[0,5,10,15],"labelExpr":"datum.value == 0 ? 'n.s.' : datum.label","tickSize":3,"domain":false,"labelFontSize":9,"labelPadding":1,"labelFlush":false,"labelAlign":{"condition":{"test":"datum.value == 0","value":"left"},"value":"center"}}},
         "x2":{"field":"b"},
         "color":{"field":"v","type":"quantitative","scale":{"type":"linear","domain":[0,1.9,2,15],"range":["#636363","#636363","#e6f6df","#66cc33"],"clamp":true,"nice":false,"zero":false},"legend":null}
        }}
      ]},
     {"data":{"name":"cc"},"width":74,"height":232,"view":{"stroke":null},
      "title":{"text":"Cellular component","fontSize":11,"fontWeight":"bold","fontStyle":"italic","anchor":"start","dx":-9,"offset":3},
      "mark":{"type":"rect","stroke":"#ffffff","strokeWidth":0.8},
      "encoding":{
       "x":{"field":"c","type":"nominal","sort":null,"scale":{"paddingInner":0,"paddingOuter":0},"axis":{"title":null,"orient":"bottom","labelAngle":-90,"domain":false,"ticks":false,"labelFontSize":9,"labelPadding":3}},
       "y":{"field":"t","type":"nominal","sort":null,"scale":{"paddingInner":0,"paddingOuter":0},"axis":{"title":null,"orient":"right"}},
       "color":{"field":"v","type":"quantitative","scale":{"type":"linear","domain":[0,1.9,2,15],"range":["#636363","#636363","#e6f6df","#66cc33"],"clamp":true,"nice":false,"zero":false},"legend":null}
      }}
    ]},
   {"title":{"text":"D","fontSize":17,"fontWeight":"bold","anchor":"start","offset":2,"dx":-10},
    "vconcat":[
     {"data":{"name":"mf"},"width":74,"height":374,"view":{"stroke":null},
      "title":{"text":"Molecular function","fontSize":11,"fontWeight":"bold","fontStyle":"italic","anchor":"start","dx":-9,"offset":3},
      "mark":{"type":"rect","stroke":"#ffffff","strokeWidth":0.8},
      "encoding":{
       "x":{"field":"c","type":"nominal","sort":null,"scale":{"paddingInner":0,"paddingOuter":0},"axis":{"title":null,"orient":"bottom","labelAngle":-90,"domain":false,"ticks":false,"labelFontSize":9,"labelPadding":3}},
       "y":{"field":"t","type":"nominal","sort":null,"scale":{"paddingInner":0,"paddingOuter":0},"axis":{"title":null,"orient":"right","labelFontSize":{"condition":{"test":"indexof(lower(datum.value), 'sequence-specific') >= 0","value":7.6},"value":9}}},
       "color":{"field":"v","type":"quantitative","scale":{"type":"linear","domain":[0,1.9,2,15],"range":["#636363","#636363","#e6f6df","#66cc33"],"clamp":true,"nice":false,"zero":false},"legend":null}
      }}
    ]}
  ]}
]
}
